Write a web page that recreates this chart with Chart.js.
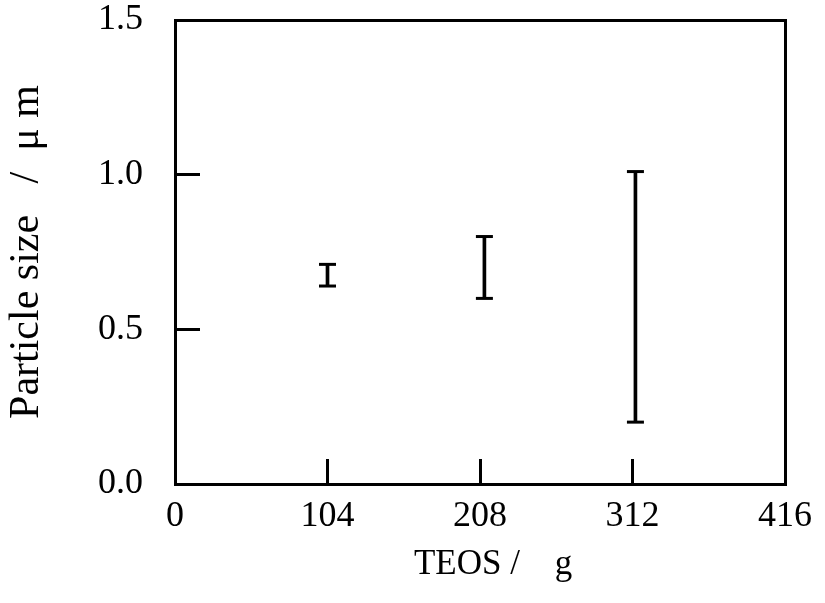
<!DOCTYPE html>
<html>
<head>
<meta charset="utf-8">
<script src="https://cdn.jsdelivr.net/npm/chart.js@4"></script>
<style>
html, body { margin: 0; padding: 0; background: #fff; }
</style>
</head>
<body>
<canvas id="myChart" width="825" height="603"></canvas>
<script>
// TEOS amount (g) and particle size range (um)
const teos = [104, 211, 314];
const sizeLow = [0.64, 0.60, 0.20];
const sizeHigh = [0.71, 0.80, 1.01];
const xTicks = [0, 104, 208, 312, 416];
const yTicks = [0.0, 0.5, 1.0, 1.5];

const serif = "'Liberation Serif', 'DejaVu Serif', serif";

let ranges = teos.map((x, i) => {
    return {x: x, y: [sizeLow[i], sizeHigh[i]]};
});
let caps = [];
teos.forEach((x, i) => {
    caps.push({x: x, y: sizeLow[i]});
    caps.push({x: x, y: sizeHigh[i]});
});

// plain axes used only to close the frame on top and right
const frameAxis = (axis, position) => ({
    type: 'linear',
    axis: axis,
    position: position,
    min: 0,
    max: 1,
    ticks: {display: false},
    grid: {drawOnChartArea: false, drawTicks: false},
    border: {display: true, color: '#000', width: 3}
});

const ctx = document.getElementById('myChart');
new Chart(ctx, {
    type: 'bar',
    data: {
        datasets: [
            {
                type: 'bar',
                data: ranges,
                backgroundColor: '#000',
                borderWidth: 0,
                barThickness: 3
            },
            {
                type: 'scatter',
                data: caps,
                pointStyle: 'line',
                pointRadius: 8.5,
                borderColor: '#000',
                borderWidth: 3,
                backgroundColor: '#000'
            }
        ]
    },
    options: {
        responsive: false,
        animation: false,
        layout: {padding: 0, autoPadding: false},
        plugins: {
            legend: {display: false},
            tooltip: {enabled: false}
        },
        scales: {
            x: {
                type: 'linear',
                position: 'bottom',
                offset: false,
                min: 0,
                max: 416,
                afterBuildTicks: (scale) => {
                    scale.ticks = xTicks.map((v) => ({value: v}));
                },
                afterFit: (scale) => {
                    scale.height = 119;
                    scale.paddingLeft = 0;
                    scale.paddingRight = 0;
                },
                ticks: {
                    color: '#000',
                    font: {family: serif, size: 36},
                    padding: 36,
                    maxRotation: 0,
                    callback: (v) => String(v)
                },
                grid: {
                    offset: false,
                    drawOnChartArea: false,
                    drawTicks: true,
                    tickLength: -25,
                    tickWidth: 3,
                    tickColor: '#000'
                },
                border: {display: true, color: '#000', width: 3},
                title: {
                    display: true,
                    text: '   TEOS /    g',
                    color: '#000',
                    font: {family: serif, size: 35},
                    padding: {top: 0, bottom: 17}
                }
            },
            y: {
                type: 'linear',
                position: 'left',
                min: 0,
                max: 1.5,
                afterBuildTicks: (scale) => {
                    scale.ticks = yTicks.map((v) => ({value: v}));
                },
                afterFit: (scale) => {
                    scale.width = 175;
                    scale.paddingTop = 0;
                    scale.paddingBottom = 0;
                },
                ticks: {
                    color: '#000',
                    font: {family: serif, size: 36},
                    padding: 57,
                    callback: (v) => v.toFixed(1)
                },
                grid: {
                    drawOnChartArea: false,
                    drawTicks: true,
                    tickLength: -25,
                    tickWidth: 3,
                    tickColor: '#000'
                },
                border: {display: true, color: '#000', width: 3},
                title: {
                    display: true,
                    text: 'Particle size   /  \u03bc m',
                    color: '#000',
                    font: {family: serif, size: 42},
                    padding: {top: 2, bottom: 0}
                }
            },
            xTop: Object.assign(frameAxis('x', 'top'), {
                afterFit: (scale) => { scale.height = 20; }
            }),
            yRight: Object.assign(frameAxis('y', 'right'), {
                afterFit: (scale) => { scale.width = 40; }
            })
        }
    }
});
</script>
</body>
</html>
